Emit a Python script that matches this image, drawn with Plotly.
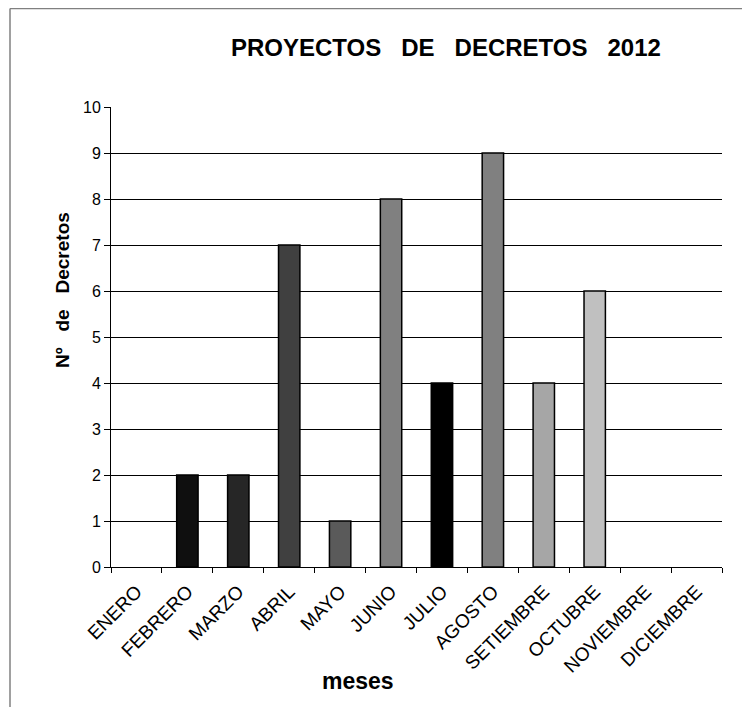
import plotly.graph_objects as go

meses = ["ENERO", "FEBRERO", "MARZO", "ABRIL", "MAYO", "JUNIO", "JULIO",
         "AGOSTO", "SETIEMBRE", "OCTUBRE", "NOVIEMBRE", "DICIEMBRE"]
decretos = [0, 2, 2, 7, 1, 8, 4, 9, 4, 6, 0, 0]
colores = ["#000000", "#0f0f0f", "#262626", "#404040", "#5a5a5a", "#808080",
           "#000000", "#808080", "#a6a6a6", "#c0c0c0", "#d0d0d0", "#e0e0e0"]
y_ticks = list(range(0, 11))

OFF = 8  # page body margin
W, H = 742, 699
L, R, T, B = 103, 28, 99, 140
pw, ph = W - L - R, H - T - B

def px(xs):
    return (xs - OFF - L) / pw

def py(ys):
    return (H - B - (ys - OFF)) / ph

NB = "\u00a0"
font = "Arial, Liberation Sans, sans-serif"

fig = go.Figure()
fig.add_trace(go.Bar(
    x=meses, y=decretos,
    marker=dict(color=colores,
                line=dict(color="#000000",
                          width=[0 if v == 0 else 1.5 for v in decretos])),
    width=0.42,
))

title_txt = (NB * 3).join(["PROYECTOS", "DE", "DECRETOS", "2012"])
ytitle_txt = (NB * 3).join(["Nº", "de", "Decretos"])

fig.update_layout(
    width=W, height=H,
    margin=dict(l=L, r=R, t=T, b=B),
    paper_bgcolor="white", plot_bgcolor="white",
    showlegend=False,
    font=dict(family=font, color="#000000"),
    xaxis=dict(
        type="category", tickson="boundaries", ticks="outside", ticklen=5,
        tickcolor="#000000", tickwidth=1, ticklabelstandoff=5,
        tickangle=-45, tickfont=dict(size=19, color="#000000"),
        showline=True, linecolor="#000000", linewidth=1,
        showgrid=False, zeroline=False,
    ),
    yaxis=dict(
        range=[0, 10], tickvals=y_ticks, ticks="outside", ticklen=6,
        tickcolor="#000000", tickfont=dict(size=16, color="#000000"),
        showline=True, linecolor="#000000", linewidth=1,
        showgrid=True, gridcolor="#000000", gridwidth=1, zeroline=False,
    ),
    annotations=[
        dict(text="<b>" + title_txt + "</b>", xref="paper", yref="paper",
             x=px(446), y=py(47), showarrow=False, xanchor="center", yanchor="middle",
             font=dict(size=24, family=font, color="#000000")),
        dict(text="<b>" + ytitle_txt + "</b>", xref="paper", yref="paper",
             x=px(62), y=py(290), showarrow=False, xanchor="center", yanchor="middle",
             textangle=-90, font=dict(size=19, family=font, color="#000000")),
        dict(text="<b>meses</b>", xref="paper", yref="paper",
             x=px(358), y=py(681), showarrow=False, xanchor="center", yanchor="middle",
             font=dict(size=23, family=font, color="#000000")),
    ],
    shapes=[
        dict(type="line", xref="paper", yref="paper", x0=px(10), y0=py(8.5),
             x1=px(760), y1=py(8.5), line=dict(color="#808080", width=1.5)),
        dict(type="line", xref="paper", yref="paper", x0=px(10), y0=py(8.5),
             x1=px(10), y1=py(720), line=dict(color="#808080", width=1.5)),
    ],
)

fig.write_html("out.html")
